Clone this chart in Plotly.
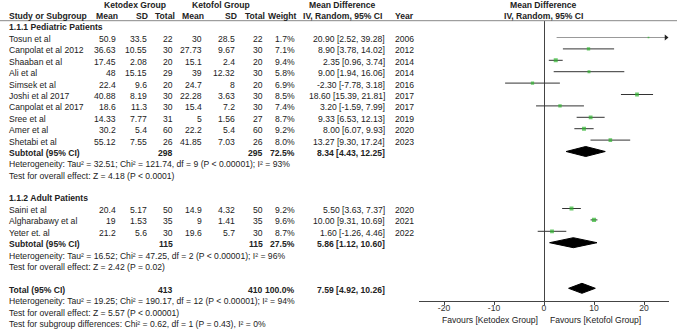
import plotly.graph_objects as go

W, H = 677, 331

# ---------------- data ----------------
studies = ["Tosun et al", "Canpolat et al 2012", "Shaaban et al", "Ali et al", "Simsek et al",
           "Joshi et al 2017", "Canpolat et al 2017", "Sree et al", "Amer et al", "Shetabi et al",
           "Saini et al", "Algharabawy et al", "Yeter et. al"]
group = [1]*10 + [2]*3
kd_mean = [50.9, 36.63, 17.45, 48, 22.4, 40.88, 18.6, 14.33, 30.2, 55.12, 20.4, 19, 21.2]
kd_sd = [33.5, 10.55, 2.08, 15.15, 9.6, 8.19, 11.3, 7.77, 5.4, 7.55, 5.17, 1.53, 5.6]
kd_n = [22, 30, 20, 29, 20, 30, 30, 31, 60, 26, 50, 35, 30]
kf_mean = [30, 27.73, 15.1, 39, 24.7, 22.28, 15.4, 5, 22.2, 41.85, 14.9, 9, 19.6]
kf_sd = [28.5, 9.67, 2.4, 12.32, 8, 3.63, 7.2, 1.56, 5.4, 7.03, 4.32, 1.41, 5.7]
kf_n = [22, 30, 20, 30, 20, 30, 30, 27, 60, 26, 50, 35, 30]
weight = [1.7, 7.1, 9.4, 5.8, 6.9, 8.5, 7.4, 8.7, 9.2, 8.0, 9.2, 9.6, 8.7]
md = [20.90, 8.90, 2.35, 9.00, -2.30, 18.60, 3.20, 9.33, 8.00, 13.27, 5.50, 10.00, 1.60]
lo = [2.52, 3.78, 0.96, 1.94, -7.78, 15.39, -1.59, 6.53, 6.07, 9.30, 3.63, 9.31, -1.26]
hi = [39.28, 14.02, 3.74, 16.06, 3.18, 21.81, 7.99, 12.13, 9.93, 17.24, 7.37, 10.69, 4.46]
year = [2006, 2012, 2014, 2014, 2016, 2017, 2017, 2019, 2020, 2023, 2020, 2021, 2022]

sub_labels = ["Subtotal (95% CI)", "Subtotal (95% CI)", "Total (95% CI)"]
sub_kd_n = [298, 115, 413]
sub_kf_n = [295, 115, 410]
sub_weight = ["72.5%", "27.5%", "100.0%"]
sub_md = [8.34, 5.86, 7.59]
sub_lo = [4.43, 1.12, 4.92]
sub_hi = [12.25, 10.60, 10.26]

group_titles = ["1.1.1 Pediatric Patients", "1.1.2 Adult Patients"]
stats_lines = [
    ["Heterogeneity: Tau² = 32.51; Chi² = 121.74, df = 9 (P < 0.00001); I² = 93%",
     "Test for overall effect: Z = 4.18 (P < 0.0001)"],
    ["Heterogeneity: Tau² = 16.52; Chi² = 47.25, df = 2 (P < 0.00001); I² = 96%",
     "Test for overall effect: Z = 2.42 (P = 0.02)"],
    ["Heterogeneity: Tau² = 19.25; Chi² = 190.17, df = 12 (P < 0.00001); I² = 94%",
     "Test for overall effect: Z = 5.57 (P < 0.00001)",
     "Test for subgroup differences: Chi² = 0.62, df = 1 (P = 0.43), I² = 0%"],
]
x_ticks = [-20, -10, 0, 10, 20]
x_ticktext = ["-20", "-10", "0", "10", "20"]
x_range = [-25, 25]
fav_left = "Favours [Ketodex Group]"
fav_right = "Favours [Ketofol Group]"

# ---------------- layout helpers ----------------
Y0, S = 37.5, 11.4
def rowy(i):
    return Y0 + S * i

# row indices
study_rows = list(range(0, 10)) + [15, 16, 17]
sub_rows = [10, 18, 22]
stat_rows = [[11, 12], [19, 20], [23, 24, 25]]
title_rows = [-1, 14]

FONT = "Liberation Sans, Arial, sans-serif"
FS = 8.6
TC = "#222"
TOFF = 1.5

def px(x):
    return x / W
def py(y):
    return 1 - y / H

ann = []
def txt(x, y, s, align="right", bold=False, size=FS, color=TC):
    if bold:
        s = "<b>" + s + "</b>"
    ann.append(dict(x=px(x), y=py(y), xref="paper", yref="paper", text=s, showarrow=False,
                    xanchor=align, yanchor="middle", font=dict(family=FONT, size=size, color=color)))

# column right edges
C_NAME = 7
C_KDM, C_KDS, C_KDN = 117.5, 148.7, 174.5
C_KFM, C_KFS, C_KFN = 203.5, 237, 265
C_W = 297
C_CI = 386.5
C_YR = 392.5

# headers
txt(135, 4.5, "Ketodex Group", "center", True)
txt(221, 4.5, "Ketofol Group", "center", True)
txt(342, 4.5, "Mean Difference", "center", True)
txt(543, 4.5, "Mean Difference", "center", True)
hy = 15.5
txt(C_NAME, hy, "Study or Subgroup", "left", True)
txt(120, hy, "Mean", "right", True)
txt(150, hy, "SD", "right", True)
txt(176.7, hy, "Total", "right", True)
txt(206, hy, "Mean", "right", True)
txt(239, hy, "SD", "right", True)
txt(266.7, hy, "Total", "right", True)
txt(298.7, hy, "Weight", "right", True)
txt(342, hy, "IV, Random, 95% CI", "center", True)
txt(393, hy, "Year", "left", True)
txt(543, hy, "IV, Random, 95% CI", "center", True)

for t, r in zip(group_titles, title_rows):
    txt(C_NAME, rowy(r) + 0.5, t, "left", True)

for k in range(len(studies)):
    y = rowy(study_rows[k]) + TOFF
    txt(C_NAME, y, studies[k], "left")
    txt(C_KDM, y, f"{kd_mean[k]:g}")
    txt(C_KDS, y, f"{kd_sd[k]:g}")
    txt(C_KDN, y, str(kd_n[k]))
    txt(C_KFM, y, f"{kf_mean[k]:g}")
    txt(C_KFS, y, f"{kf_sd[k]:g}")
    txt(C_KFN, y, str(kf_n[k]))
    txt(C_W, y, f"{weight[k]:.1f}%")
    txt(C_CI, y, f"{md[k]:.2f} [{lo[k]:.2f}, {hi[k]:.2f}]")
    txt(C_YR, y, str(year[k]), "left")

for j in range(3):
    y = rowy(sub_rows[j]) + TOFF
    txt(C_NAME, y, sub_labels[j], "left", True)
    txt(C_KDN, y, str(sub_kd_n[j]), "right", True)
    txt(C_KFN, y, str(sub_kf_n[j]), "right", True)
    txt(C_W, y, sub_weight[j], "right", True)
    txt(C_CI, y, f"{sub_md[j]:.2f} [{sub_lo[j]:.2f}, {sub_hi[j]:.2f}]", "right", True)
    for s, r in zip(stats_lines[j], stat_rows[j]):
        txt(C_NAME, rowy(r) + TOFF, s, "left")

txt(540, 320, fav_left, "right")
txt(548, 320, fav_right, "left")

# ---------------- figure ----------------
fig = go.Figure()

# CI lines
for k in range(len(studies)):
    y = rowy(study_rows[k])
    x1 = min(hi[k], x_range[1] - 0.3)
    col = "#999" if hi[k] > x_range[1] else "#333"
    fig.add_trace(go.Scatter(x=[max(lo[k], x_range[0]), x1], y=[y, y], mode="lines",
                             line=dict(color=col, width=1), hoverinfo="skip", showlegend=False))
    if hi[k] > x_range[1]:
        fig.add_trace(go.Scatter(x=[x_range[1] - 0.6], y=[y], mode="markers",
                                 marker=dict(symbol="triangle-right", size=5, color="#222"),
                                 hoverinfo="skip", showlegend=False))

# squares
fig.add_trace(go.Scatter(
    x=md, y=[rowy(r) for r in study_rows], mode="markers",
    marker=dict(symbol="square", size=[1.2 + 0.3 * w for w in weight], color="#2fb52f",
                line=dict(width=0)),
    hoverinfo="skip", showlegend=False))

# diamonds
for j in range(3):
    y = rowy(sub_rows[j])
    fig.add_trace(go.Scatter(
        x=[sub_lo[j], sub_md[j], sub_hi[j], sub_md[j], sub_lo[j]],
        y=[y, y - 5, y, y + 5, y], mode="lines", fill="toself",
        fillcolor="black", line=dict(color="black", width=1),
        hoverinfo="skip", showlegend=False))

# header rule
fig.add_shape(type="line", xref="paper", yref="paper", x0=0, x1=1, y0=py(20.7), y1=py(20.7),
              line=dict(color="#888", width=1))

AX_L, AX_R = 419, 669
fig.update_layout(
    width=W, height=H, margin=dict(l=0, r=0, t=0, b=0),
    paper_bgcolor="white", plot_bgcolor="rgba(0,0,0,0)",
    xaxis=dict(domain=[px(AX_L), px(AX_R)], range=x_range, tickvals=x_ticks,
               ticktext=x_ticktext,
               showline=True, linecolor="#444", linewidth=1, ticks="outside", ticklen=3,
               ticklabelstandoff=-4,
               tickcolor="#444", showgrid=False, zeroline=True, zerolinecolor="#444",
               zerolinewidth=1, tickfont=dict(family=FONT, size=FS, color="#333")),
    yaxis=dict(domain=[py(301), py(20.7)], range=[301, 20.7], visible=False,
               showgrid=False, zeroline=False),
    annotations=ann,
    showlegend=False,
)

fig.write_html("out.html", config={"displayModeBar": False},
               post_script="document.body.style.margin='0';document.body.style.overflow='hidden';")
